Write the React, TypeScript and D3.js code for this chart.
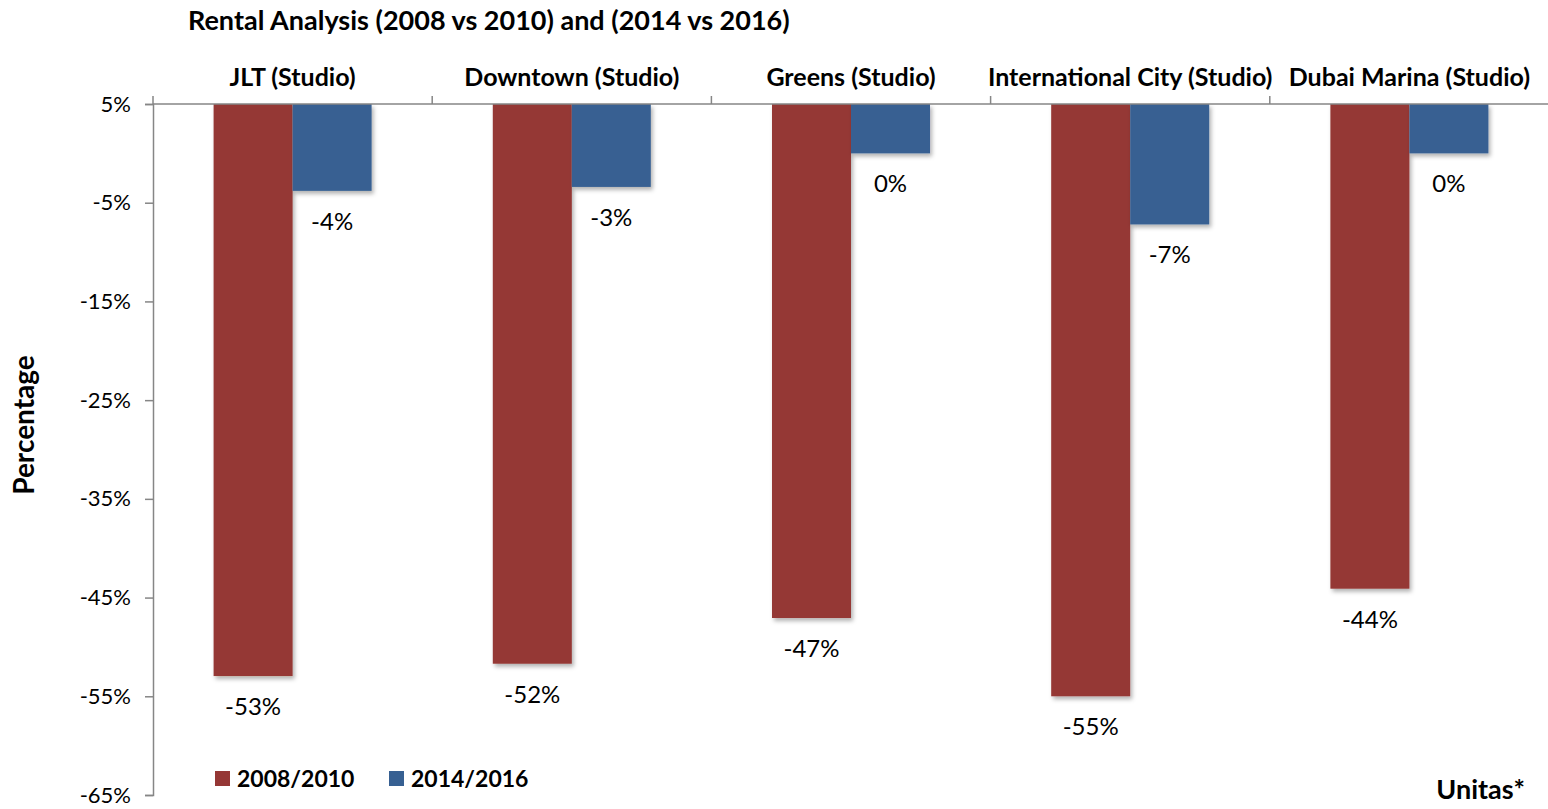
import React, { useEffect, useRef } from 'react';
import * as d3 from 'd3';

const categories = ['JLT (Studio)', 'Downtown (Studio)', 'Greens (Studio)', 'International City (Studio)', 'Dubai Marina (Studio)'];
const seriesNames = ['2008/2010', '2014/2016'];
const values2008 = [-52.95, -51.7, -47.07, -55.0, -44.1];
const values2014 = [-3.8, -3.4, 0.0, -7.2, 0.0];
const yTicks = [5, -5, -15, -25, -35, -45, -55, -65];
const colors = ['#953735', '#376092'];

const FONT = 'Lato, "Open Sans", sans-serif';

const App = () => {
  const svgRef = useRef<SVGSVGElement>(null);

  useEffect(() => {
    const svg = d3.select(svgRef.current);
    svg.selectAll('*').remove();

    const W = 1548;
    const H = 809;
    const margin = { top: 104, right: -1, bottom: 14, left: 153 };
    const width = W - margin.left - margin.right;
    const height = H - margin.top - margin.bottom;

    svg.attr('width', W).attr('height', H);

    const defs = svg.append('defs');
    const f = defs.append('filter').attr('id', 'shadow').attr('x', '-10%').attr('y', '-10%').attr('width', '130%').attr('height', '130%');
    f.append('feDropShadow').attr('dx', 2).attr('dy', 3).attr('stdDeviation', 2).attr('flood-color', '#000').attr('flood-opacity', 0.3);

    const g = svg.append('g').attr('transform', `translate(${margin.left},${margin.top})`);

    const x = d3.scaleBand().domain(categories).range([0, width]).padding(0);
    const xInner = d3.scaleBand().domain(seriesNames).range([0, x.bandwidth()]).paddingInner(0).paddingOuter(0.767);
    const y = d3.scaleLinear().domain([5, -65]).range([0, height]);

    const data = categories.map((c, i) => ({ cat: c, vals: [values2008[i], values2014[i]] }));

    // bars hang down from the top axis (5%)
    data.forEach(d => {
      d.vals.forEach((v, si) => {
        const bx = (x(d.cat) as number) + (xInner(seriesNames[si]) as number);
        const bw = xInner.bandwidth();
        g.append('rect')
          .attr('x', bx)
          .attr('y', y(5))
          .attr('width', bw)
          .attr('height', y(v) - y(5))
          .attr('fill', colors[si])
          .attr('filter', 'url(#shadow)');
        g.append('text')
          .attr('x', bx + bw / 2)
          .attr('y', y(v) + 39)
          .attr('text-anchor', 'middle')
          .style('font-family', FONT)
          .style('font-size', '24px')
          .attr('fill', '#000')
          .text(`${Math.round(v) === 0 ? 0 : Math.round(v)}%`);
      });
    });

    // y axis
    const yAxis = g.append('g')
      .call(d3.axisLeft(y).tickValues(yTicks).tickSize(8).tickPadding(14).tickFormat(d => `${d}%`));
    yAxis.select('.domain').attr('stroke', '#868686').attr('stroke-width', 1.5);
    yAxis.selectAll('.tick line').attr('stroke', '#868686').attr('stroke-width', 1.5);
    yAxis.selectAll('.tick text')
      .style('font-family', FONT).style('font-size', '22px').attr('fill', '#000');

    // top category axis
    const xTickPos = categories.map(c => x(c) as number).concat([width]);
    g.append('line')
      .attr('x1', 0).attr('x2', width).attr('y1', 0).attr('y2', 0)
      .attr('stroke', '#868686').attr('stroke-width', 1.5);
    g.selectAll('.xtick')
      .data(xTickPos)
      .enter()
      .append('line')
      .attr('x1', d => d).attr('x2', d => d)
      .attr('y1', -8).attr('y2', 0)
      .attr('stroke', '#868686').attr('stroke-width', 1.5);
    g.selectAll('.xlabel')
      .data(categories)
      .enter()
      .append('text')
      .attr('x', d => (x(d) as number) + x.bandwidth() / 2)
      .attr('y', -18)
      .attr('text-anchor', 'middle')
      .style('font-family', FONT)
      .style('font-size', '25px')
      .style('font-weight', 'bold')
      .text(d => d);

    // title
    svg.append('text')
      .attr('x', 188).attr('y', 30)
      .style('font-family', FONT)
      .style('font-size', '27px')
      .style('font-weight', 'bold')
      .text('Rental Analysis (2008 vs 2010) and (2014 vs 2016)');

    // y axis title
    svg.append('text')
      .attr('transform', 'translate(34,425) rotate(-90)')
      .attr('text-anchor', 'middle')
      .style('font-family', FONT)
      .style('font-size', '28px')
      .style('font-weight', 'bold')
      .text('Percentage');

    // legend
    const legend = svg.append('g').attr('transform', 'translate(215,771)');
    seriesNames.forEach((s, i) => {
      const lg = legend.append('g').attr('transform', `translate(${i * 174},0)`);
      lg.append('rect').attr('width', 15).attr('height', 15).attr('fill', colors[i]);
      lg.append('text')
        .attr('x', 22).attr('y', 16)
        .style('font-family', FONT)
        .style('font-size', '23px')
        .style('font-weight', 'bold')
        .text(s);
    });

    svg.append('text')
      .attr('x', 1525).attr('y', 799)
      .attr('text-anchor', 'end')
      .style('font-family', FONT)
      .style('font-size', '27px')
      .style('font-weight', 'bold')
      .text('Unitas*');
  }, []);

  return (
    <div style={{ position: 'absolute', left: 0, top: 0, background: '#fff' }}>
      <svg ref={svgRef}></svg>
    </div>
  );
};

export default App;
